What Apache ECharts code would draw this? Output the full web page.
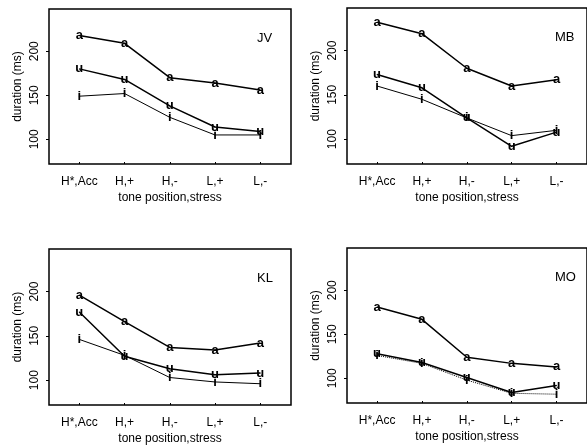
<!DOCTYPE html>
<html>
<head>
<meta charset="utf-8">
<script src="https://cdn.jsdelivr.net/npm/echarts@6/dist/echarts.min.js"></script>
<style>
  html, body { margin: 0; padding: 0; background: #fff; }
  #chart { width: 587px; height: 447px; }
</style>
</head>
<body>
<div id="chart"></div>
<script>
// tone position, stress
const tones = ['H*,Acc', 'H,+', 'H,-', 'L,+', 'L,-']
const yTicks = [100, 150, 200]

// duration (ms) per speaker and vowel
const jvA = [218, 209, 170, 164, 156]
const jvU = [180, 168, 138, 114, 109]
const jvI = [149, 152, 125, 105, 105]

const mbA = [232, 219, 180, 160, 167]
const mbU = [173, 158, 124, 92, 108]
const mbI = [160, 145, 124, 104, 110]

const klA = [196, 166, 137, 134, 142]
const klU = [177, 127, 113, 106, 108]
const klI = [146, 128, 103, 98, 96]

const moA = [181, 167, 124, 117, 113]
const moU = [128, 118, 101, 84, 92]
const moI = [126, 117, 98, 83, 82]

const speakers = ['JV', 'MB', 'KL', 'MO']
const vowels = ['a', 'u', 'i']
const values = [
  [jvA, jvU, jvI],
  [mbA, mbU, mbI],
  [klA, klU, klI],
  [moA, moU, moI]
]

const font = 'Liberation Sans, Arial, sans-serif'
const grids = [
  {left: 49, top: 9, width: 242, height: 155},
  {left: 347, top: 8, width: 242, height: 156},
  {left: 49, top: 249, width: 242, height: 156},
  {left: 347, top: 248, width: 242, height: 155}
]

let myChart = echarts.init(document.getElementById('chart'))

let option = {
  backgroundColor: '#fff',
  animation: false,
  title: [],
  grid: grids.map(g => Object.assign({show: true, borderColor: '#000', borderWidth: 1.5, backgroundColor: 'transparent'}, g)),
  xAxis: [],
  yAxis: [],
  series: []
}

speakers.forEach((name, k) => {
  let g = grids[k]
  option.title.push({
    text: name,
    left: g.left + 203,
    top: g.top + 18,
    textStyle: {fontFamily: font, fontSize: 13, fontWeight: 'normal', color: '#000'}
  })
  option.xAxis.push({
    type: 'value',
    gridIndex: k,
    min: 0.33,
    max: 5.68,
    splitLine: {show: false},
    axisLine: {show: false},
    axisTick: {show: true, inside: true, length: 2, customValues: [1, 2, 3, 4, 5], lineStyle: {color: '#000'}},
    axisLabel: {
      customValues: [1, 2, 3, 4, 5],
      formatter: v => tones[v - 1] || '',
      margin: 12,
      fontFamily: font,
      fontSize: 12,
      color: '#000'
    },
    name: 'tone position,stress',
    nameLocation: 'middle',
    nameGap: 28,
    nameTextStyle: {fontFamily: font, fontSize: 12, color: '#000'}
  })
  option.yAxis.push({
    type: 'value',
    gridIndex: k,
    min: 72,
    max: 248,
    splitLine: {show: false},
    axisLine: {show: false},
    axisTick: {show: true, length: 3, customValues: yTicks, lineStyle: {color: '#000'}},
    axisLabel: {
      customValues: yTicks,
      rotate: 90,
      margin: 8,
      fontFamily: font,
      fontSize: 12,
      color: '#000'
    },
    name: 'duration (ms)',
    nameLocation: 'middle',
    nameRotate: 90,
    nameGap: 25,
    nameTextStyle: {fontFamily: font, fontSize: 12, color: '#000'}
  })
  vowels.forEach((v, j) => {
    let isI = v === 'i'
    option.series.push({
      type: 'line',
      name: name + ' ' + v,
      xAxisIndex: k,
      yAxisIndex: k,
      data: values[k][j].map((y, i) => [i + 1, y]),
      symbol: 'circle',
      symbolSize: 1,
      itemStyle: {color: '#000'},
      lineStyle: {
        color: '#000',
        width: isI ? 1 : 1.5,
        type: isI && name === 'MO' ? 'dotted' : 'solid'
      },
      label: {
        show: true,
        position: 'inside',
        formatter: v,
        fontFamily: font,
        fontSize: 13,
        fontWeight: 'bold',
        color: '#000'
      }
    })
  })
})

myChart.setOption(option)
</script>
</body>
</html>
